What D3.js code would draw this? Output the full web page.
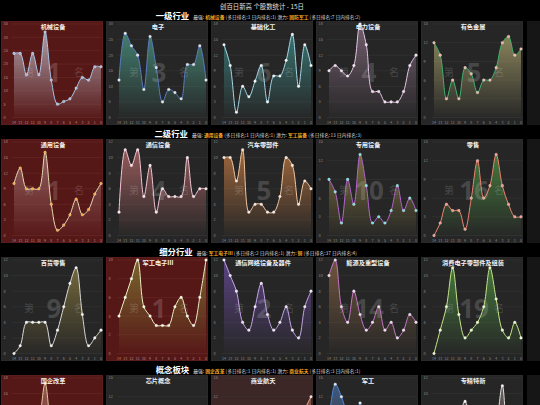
<!DOCTYPE html>
<html><head><meta charset="utf-8">
<script src="https://cdn.jsdelivr.net/npm/d3@7"></script>
<style>html,body{margin:0;padding:0;background:#000;overflow:hidden}</style>
</head><body>
<script>
// ---------------- DATA ----------------
const pageTitle = "创百日新高 个股数统计 - 15日";
const xLabels = ["14","13","12","11","10","9","8","7","6","5","4","3","2","1","0"];

const sectionNames = ["一级行业","二级行业","细分行业","概念板块"];
const strongNames = ["机械设备","通用设备","军工电子Ⅲ","国企改革"];
const strongRanks = ["(多日排名:1 日内排名:1)","(多日排名:1 日内排名:1)","(多日排名:2 日内排名:1)","(多日排名:1 日内排名:1)"];
const potentialNames = ["国防军工","军工装备","铜","商业航天"];
const potentialRanks = ["(多日排名:7 日内排名:2)","(多日排名:13 日内排名:3)","(多日排名:37 日内排名:4)","(多日排名:3 日内排名:1)"];

const names_r1 = ["机械设备","电子","基础化工","电力设备","有色金属"];
const ranks_r1 = [1,3,6,4,5];
const yMax_r1 = [35,30,18,18,15];
const yStep_r1 = [5,5,3,3,3];
const values_r1 = [
  [24,24,16,24,16,32,14,5,6,7,11,15,14,19,19],
  [12,27,23,20,9,26,16,5,9,8,6,17,17,23,12],
  [14,10,1,6,4,7,10,3,8,8,11,16,6,14,10],
  [9,10,9,8,10,18,14,5,5,3,3,3,5,10,12],
  [12,10,3,6,3,8,7,4,6,6,8,12,13,10,11]
];

const names_r2 = ["通用设备","通信设备","汽车零部件","专用设备","零售"];
const ranks_r2 = [1,4,5,10,16];
const yMax_r2 = [18,12,12,15,15];
const yStep_r2 = [3,2,2,3,3];
const values_r2 = [
  [10,13,9,9,9,16,6,1,2,4,7,4,5,8,10],
  [3,11,9,11,5,9,3,6,5,5,5,10,5,6,6],
  [10,10,7,11,3,4,4,3,3,5,10,9,4,7,6],
  [9,7,2,9,5,13,8,2,3,2,4,8,4,6,4],
  [0,2,5,4,4,1,6,12,6,8,13,8,5,3,3]
];

const names_r3 = ["百货零售","军工电子Ⅲ","通信网络设备及器件","能源及重型设备","消费电子零部件及组装"];
const ranks_r3 = [9,1,2,14,19];
const yMax_r3 = [12,10,12,12,12];
const yStep_r3 = [2,2,2,2,2];
const values_r3 = [
  [0,1,4,4,4,4,1,3,6,9,11,5,1,2,3],
  [4,6,8,10,5,4,3,3,3,5,6,4,3,6,10],
  [12,10,8,4,3,6,9,5,3,4,6,3,2,6,8],
  [10,12,6,4,8,5,3,4,6,3,4,2,3,5,4],
  [0,3,6,11,5,2,3,4,6,11,7,3,2,4,2]
];

const names_r4 = ["国企改革","芯片概念","商业航天","军工","专精特新"];
const ranks_r4 = [1,2,3,4,5];
const yMax_r4 = [18,15,15,15,12];
const yStep_r4 = [3,3,3,3,2];
const values_r4 = [
  [10,12,9,8,10,17,8,4,5,6,8,9,7,10,12],
  [8,9,7,6,8,10,6,4,5,5,6,8,6,7,9],
  [6,7,5,6,8,9,5,3,4,5,7,9,8,10,12],
  [8,14,12,9,7,11,6,3,4,5,6,9,7,8,10],
  [7,8,6,5,7,9,5,3,4,4,6,11,5,6,8]
];

// ---------------- STYLE ----------------
const styles = [
  [ {line:"#a9c6e6",pt:"#9dbbe0",fill:"#c8c8d4"}, {line:"#5a7cc2",pt:"#dde2ea",fill:"#4c9c88"},
    {line:"#a6d6e6",pt:"#eef4f6",fill:"#3e8c88"}, {line:"#e6c6e6",pt:"#f4dcf4",fill:"#8a7084"},
    {line:"#3fb46e",pt:"#e8b49a",fill:"#aaa26c"} ],
  [ {line:"#e6dab0",pt:"#f2a634",fill:"#a87878"}, {line:"#f2c6d6",pt:"#f8e2ea",fill:"#b86a6a"},
    {line:"#f2c8a2",pt:"#f8e2d6",fill:"#c67c44"}, {line:"#b466d2",pt:"#72e0e0",fill:"#948442"},
    {line:"#f08472",pt:"#f29686",fill:"#4e9644"} ],
  [ {line:"#d8d8d8",pt:"#f0f0f0",fill:"#8c7c42"}, {line:"#eeeec6",pt:"#f6f6e0",fill:"#847e34"},
    {line:"#c6a6e6",pt:"#ece0f6",fill:"#6c4ea0"}, {line:"#c476c6",pt:"#eed6ee",fill:"#866444"},
    {line:"#c6e486",pt:"#e6f4c6",fill:"#4e9044"} ],
  [ {line:"#e8c8a0",pt:"#f4e0c8",fill:"#a87060"}, {line:"#d0d8f0",pt:"#eef0f8",fill:"#607aa0"},
    {line:"#f0b0a0",pt:"#f8d8d0",fill:"#a06050"}, {line:"#4a86d6",pt:"#d6e4f6",fill:"#4a6a9a"},
    {line:"#e0e0e0",pt:"#f4f4f4",fill:"#807070"} ]
];

const rows = [
  {names:names_r1, ranks:ranks_r1, yMax:yMax_r1, yStep:yStep_r1, values:values_r1},
  {names:names_r2, ranks:ranks_r2, yMax:yMax_r2, yStep:yStep_r2, values:values_r2},
  {names:names_r3, ranks:ranks_r3, yMax:yMax_r3, yStep:yStep_r3, values:values_r3},
  {names:names_r4, ranks:ranks_r4, yMax:yMax_r4, yStep:yStep_r4, values:values_r4}
];

// ---------------- DRAW ----------------
const H = 405;
const FONT = "'Noto Sans CJK SC','Noto Sans',sans-serif";
const svg = d3.select("body").append("svg").attr("width",540).attr("height",H)
  .style("font-family",FONT);
const defs = svg.append("defs");
svg.append("rect").attr("width",540).attr("height",H).attr("fill","#000");

svg.append("text").attr("x",262).attr("y",8.6).attr("text-anchor","middle")
  .attr("font-size",6.4).attr("fill","#e0e0e0").text(pageTitle);

const PW = 102, PH = 104, PITCH = 105, ROWP = 118, TOP0 = 21;
// only texts whose baseline stays inside the window are drawn
const visible = (top, yy) => top + yy <= H - 1;

rows.forEach((row, r) => {
  const top = TOP0 + r*ROWP;
  // header
  const ht = svg.append("text").attr("x",258).attr("y",top-2.2).attr("text-anchor","middle")
    .attr("fill","#d8d8d8");
  ht.append("tspan").attr("font-size",8.4).attr("font-weight","bold").attr("fill","#fff").text(sectionNames[r]);
  ht.append("tspan").attr("font-size",4.8).attr("dx",4).text("最强: ");
  ht.append("tspan").attr("font-size",4.8).attr("fill","#f5a623").attr("font-weight","bold").text(strongNames[r]);
  ht.append("tspan").attr("font-size",4.8).text(" " + strongRanks[r] + "   潜力: ");
  ht.append("tspan").attr("font-size",4.8).attr("fill","#f5a623").attr("font-weight","bold").text(potentialNames[r]);
  ht.append("tspan").attr("font-size",4.8).text(" " + potentialRanks[r]);

  // partial panel strip at right edge
  svg.append("rect").attr("x",527).attr("y",top).attr("width",13).attr("height",PH).attr("fill","#161616");

  row.names.forEach((name, i) => {
    const left = 1 + i*PITCH;
    const st = styles[r][i];
    const isStrong = name === strongNames[r];
    const isPot = name === potentialNames[r];
    const g = svg.append("g").attr("transform",`translate(${left},${top})`);
    const clipId = `clip-${r}-${i}`;
    defs.append("clipPath").attr("id",clipId).append("rect").attr("width",PW).attr("height",PH);
    const pg = g.append("g").attr("clip-path",`url(#${clipId})`);

    pg.append("rect").attr("width",PW).attr("height",PH)
      .attr("fill", isStrong ? "#561717" : (isPot ? "#3c2626" : "#262626"))
      .attr("stroke", isStrong ? "#6a2a2a" : "#363636").attr("stroke-width",0.6);

    const x = d3.scalePoint().domain(xLabels).range([13,100]);
    const y = d3.scaleLinear().domain([0,row.yMax[i]]).range([96.5,3]);
    const ticks = d3.range(0,row.yMax[i]+0.001,row.yStep[i]);

    pg.selectAll(".grid").data(ticks).enter().append("line")
      .attr("x1",11).attr("x2",101).attr("y1",d=>y(d)).attr("y2",d=>y(d))
      .attr("stroke", isStrong ? "#6e2e2e" : "#3a3a3a").attr("stroke-width",0.5);

    pg.selectAll(".yl").data(ticks.filter(t=>visible(top, y(t)+1.4))).enter().append("text")
      .attr("x",2.6).attr("y",d=>y(d)+1.4).attr("font-size",3.9)
      .attr("fill", isStrong ? "#b08888" : "#8c8c8c").text(d=>d);

    if (visible(top, 102.6)) {
      pg.selectAll(".xl").data(xLabels).enter().append("text")
        .attr("x",d=>x(d)).attr("y",102.6).attr("text-anchor","middle").attr("font-size",3.5)
        .attr("fill", isStrong ? "#b08888" : "#8c8c8c").text(d=>d);
    }

    // gradient
    const gid = `grad-${r}-${i}`;
    const grad = defs.append("linearGradient").attr("id",gid).attr("x1",0).attr("y1",0).attr("x2",0).attr("y2",1);
    grad.append("stop").attr("offset","0%").attr("stop-color",st.fill).attr("stop-opacity",0.75);
    grad.append("stop").attr("offset","100%").attr("stop-color",st.fill).attr("stop-opacity",0.02);

    const pts = row.values[i].map((v,k)=>({k:xLabels[k], v}));
    const curve = d3.curveCatmullRom.alpha(0.5);
    const area = d3.area().x(d=>x(d.k)).y0(y(0)).y1(d=>y(d.v)).curve(curve);
    const line = d3.line().x(d=>x(d.k)).y(d=>y(d.v)).curve(curve);

    pg.append("path").attr("d",area(pts)).attr("fill",`url(#${gid})`);

    // watermark
    if (visible(top, 61)) {
      const wm = pg.append("g").attr("fill","#ffffff").attr("fill-opacity",0.17);
      wm.append("text").attr("x",28).attr("y",55).attr("text-anchor","middle").attr("font-size",10).text("第");
      wm.append("text").attr("x",53).attr("y",61).attr("text-anchor","middle").attr("font-size",26)
        .attr("font-weight","bold").attr("font-family","'Noto Sans','DejaVu Sans',sans-serif").text(row.ranks[i]);
      wm.append("text").attr("x",78).attr("y",55).attr("text-anchor","middle").attr("font-size",10).text("名");
    }

    pg.append("path").attr("d",line(pts)).attr("fill","none").attr("stroke",st.line).attr("stroke-width",1);
    pg.selectAll(".pt").data(pts).enter().append("circle")
      .attr("cx",d=>x(d.k)).attr("cy",d=>y(d.v)).attr("r",1.3)
      .attr("fill",st.pt).attr("stroke","#ffffff").attr("stroke-width",0.3);

    pg.append("text").attr("x",52).attr("y",8.2).attr("text-anchor","middle")
      .attr("font-size",6.2).attr("font-weight","bold").attr("fill","#f2f2f2").text(name);
  });
});
</script>
</body></html>
